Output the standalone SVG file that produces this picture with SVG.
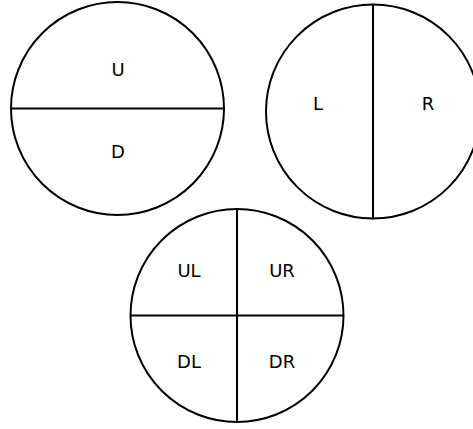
<svg xmlns="http://www.w3.org/2000/svg" width="473" height="429" viewBox="0 0 473 429">
<style>
.c{fill:none;stroke:#000;stroke-width:2}
.l{stroke:#000;stroke-width:2}
text{font-family:"DejaVu Sans",sans-serif;font-size:18px;fill:#000;text-anchor:middle}
</style>
<rect width="473" height="429" fill="#fff"/>
<g id="circle-ud">
<circle class="c" cx="117.5" cy="108.5" r="106.5"/>
<line class="l" x1="11" y1="108.5" x2="224" y2="108.5"/>
<text x="118" y="75.5">U</text>
<text x="118" y="158">D</text>
</g>
<g id="circle-lr">
<circle class="c" cx="373" cy="111.5" r="107"/>
<line class="l" x1="373" y1="4.5" x2="373" y2="218.5"/>
<text x="318" y="109.5">L</text>
<text x="428" y="109.5">R</text>
</g>
<g id="circle-quad">
<circle class="c" cx="237" cy="315.5" r="106.5"/>
<line class="l" x1="237" y1="209" x2="237" y2="422"/>
<line class="l" x1="130.5" y1="315.5" x2="343.5" y2="315.5"/>
<text x="189" y="277">UL</text>
<text x="282" y="277">UR</text>
<text x="189" y="367.5">DL</text>
<text x="282" y="367.5">DR</text>
</g>
</svg>
